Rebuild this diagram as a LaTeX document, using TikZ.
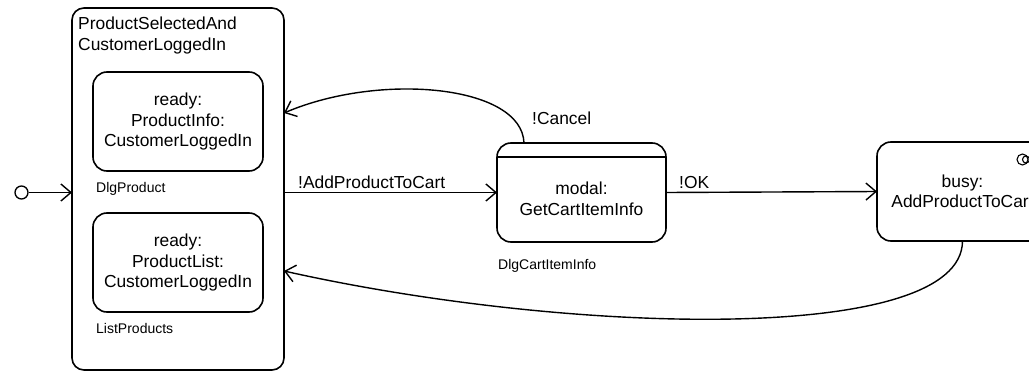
\documentclass[tikz,border=0pt]{standalone}
\usepackage{fontspec}
\setmainfont{Liberation Sans}
\usetikzlibrary{arrows.meta}
\begin{document}
\begin{tikzpicture}[x=1pt,y=-1pt,
  state/.style={draw, line width=1.6pt, rounded corners=14pt, inner sep=0pt, outer sep=0pt,
    font=\fontsize{17.4}{20.5}\selectfont, align=center},
  big/.style={font=\fontsize{17.4}{20.5}\selectfont, align=center, inner sep=0pt},
  small/.style={font=\fontsize{14}{16}\selectfont, inner sep=0pt, anchor=base west},
  lbl/.style={font=\fontsize{17.4}{20}\selectfont, inner sep=0pt, anchor=base west},
  trans/.style={line width=1.4pt, -{Straight Barb[length=10pt,width=17pt,line width=1.4pt]}}]
\useasboundingbox (0,0) rectangle (1029,372);
\clip (0,0) rectangle (1029,372);

% composite state with its two regions
\node[state, rounded corners=12pt, minimum width=212pt, minimum height=362pt] (outer) at (178,189) {};
\node[big, align=left, anchor=base west] (title) at (78,50) {ProductSelectedAnd\\CustomerLoggedIn};

\node[state, minimum width=170pt, minimum height=99pt] (info) at (178,121.5)
  {ready:\\ProductInfo:\\CustomerLoggedIn};
\node[small] (dlgp) at (96,192) {DlgProduct};

\node[state, minimum width=170pt, minimum height=99pt] (list) at (178,262.5)
  {ready:\\ProductList:\\CustomerLoggedIn};
\node[small] (listp) at (96,333) {ListProducts};

% modal dialog state with header compartment
\node[state, minimum width=169pt, minimum height=99pt] (modal) at (581.5,192.5) {};
\draw[line width=1.6pt] ([yshift=-14pt]modal.north west) -- ([yshift=-14pt]modal.north east);
\node[big] (modaltxt) at (581.5,199) {modal:\\GetCartItemInfo};
\node[small] (dlgc) at (498,269) {DlgCartItemInfo};

% busy state
\node[state, minimum width=171pt, minimum height=99pt] (busy) at (962.5,191.5)
  {busy:\\AddProductToCart};
\node[draw, circle, line width=1.1pt, minimum size=11pt, inner sep=0pt] (icon) at (1022.5,159.5) {};
\node[draw, circle, line width=1.1pt, minimum size=7pt, inner sep=0pt] (iconin) at (1026,159.5) {};

% initial pseudostate
\node[draw, circle, line width=1.3pt, minimum size=13pt, inner sep=0pt] (init) at (21.5,192.5) {};

% transitions
\coordinate (cancelStart) at ([xshift=27pt]modal.north west);
\coordinate (cancelEnd) at (outer.east |- 0,113);
\coordinate (returnEnd) at (outer.east |- 0,271);

\draw[trans] (init.east) -- (init -| outer.west);
\draw[trans] (modal -| outer.east) -- (modal.west);
\node[lbl] (addlbl) at (298,188) {!AddProductToCart};
\draw[trans] (modal.east) -- (busy.west);
\node[lbl] (oklbl) at (679,188) {!OK};
\draw[trans] (cancelStart) .. controls (522,85) and (380,72) .. (cancelEnd);
\node[lbl] (cancellbl) at (532,124) {!Cancel};
\draw[trans] (busy.south) .. controls (962,345) and (570,335) .. (returnEnd);
\end{tikzpicture}
\end{document}
